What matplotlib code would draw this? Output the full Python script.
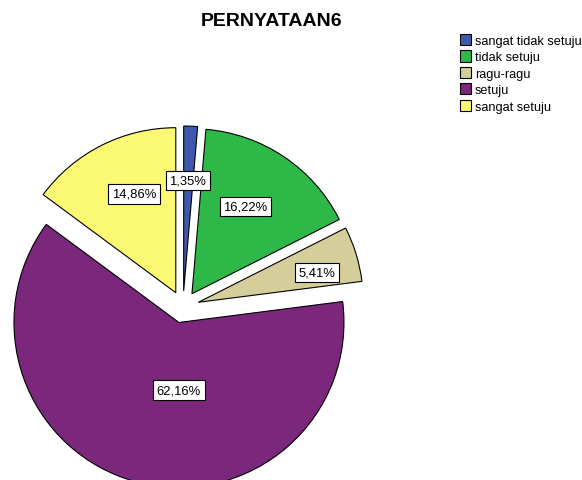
import numpy as np
import matplotlib
matplotlib.use("Agg")
import matplotlib.pyplot as plt

title = "PERNYATAAN6"
categories = ["sangat tidak setuju", "tidak setuju", "ragu-ragu", "setuju", "sangat setuju"]
counts = [1, 12, 4, 46, 11]
colors = ["#3E58AC", "#2EB848", "#D4CF9A", "#7B277B", "#FBF873"]

plt.rcParams["font.family"] = ["Liberation Sans", "DejaVu Sans"]

W, H = 582, 481
fig = plt.figure(figsize=(W / 100, H / 100), dpi=100)
ax = fig.add_axes([0, 0, 1, 1])

R = 165
center = (183, H - 308)
explode = [16] * len(counts)  # offset in data units (pixels here)

wedges, texts, autotexts = ax.pie(
    counts, colors=colors, explode=explode, startangle=90, counterclock=False,
    radius=R, center=center, frame=True,
    autopct=lambda p: f"{p:.2f}%".replace(".", ","),
    wedgeprops=dict(edgecolor="black", linewidth=0.8),
    textprops=dict(fontsize=9.4, color="black"),
)
ax.set_xlim(0, W)
ax.set_ylim(0, H)
ax.set_aspect("equal")
ax.axis("off")

# label placement inside each wedge: (fraction along the wedge's angle span, fraction of radius)
label_angle_frac = [0.43, 0.455, 0.65, 0.435, 0.57]
label_radius_frac = [0.67, 0.62, 0.74, 0.41, 0.65]
for w, t, af, rf in zip(wedges, autotexts, label_angle_frac, label_radius_frac):
    # counterclock=False: wedge drawn from theta2 down to theta1 in clockwise order
    ang = np.deg2rad(w.theta2 - af * (w.theta2 - w.theta1))
    cx, cy = w.center
    t.set_position((cx + rf * R * np.cos(ang), cy + rf * R * np.sin(ang)))
    t.set_ha("center")
    t.set_va("center")
    t.set_bbox(dict(boxstyle="square,pad=0.28", fc="white", ec="black", lw=0.8))

fig.text(272 / W, 1 - 21 / H, title, ha="center", va="center",
         fontsize=14, fontweight="bold")

leg = fig.legend(wedges, categories, loc="upper left",
                 bbox_to_anchor=(460 / W, 1 - 35 / H), frameon=False,
                 fontsize=9.2, handlelength=0.85, handleheight=0.95,
                 handletextpad=0.3, labelspacing=0.28, borderpad=0,
                 borderaxespad=0)
for h in leg.legend_handles:
    h.set_edgecolor("black")
    h.set_linewidth(0.8)

fig.savefig("out.png", dpi=100)
